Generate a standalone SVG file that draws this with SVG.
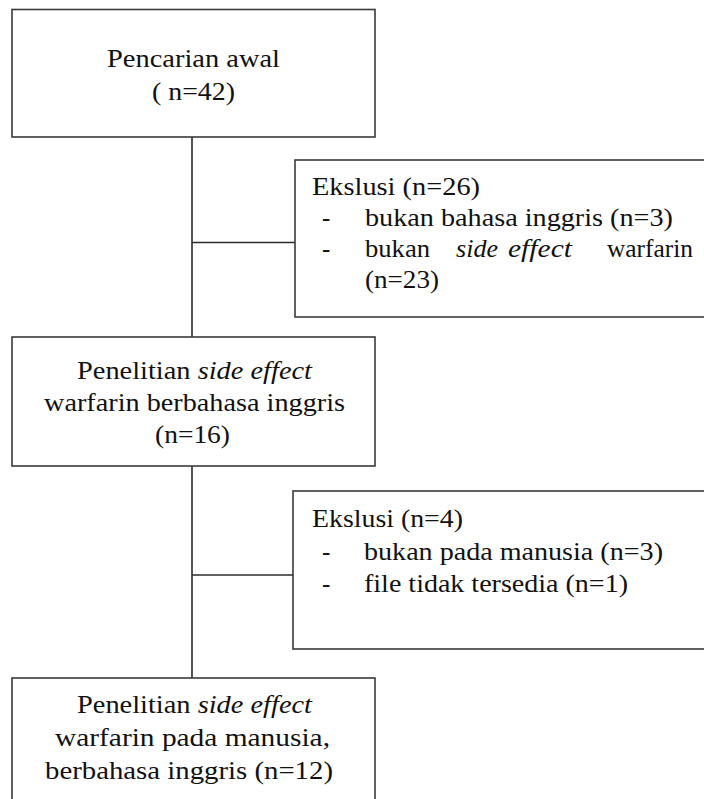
<svg xmlns="http://www.w3.org/2000/svg" width="704" height="799" viewBox="0 0 704 799">
<style>
.box{fill:#fff;stroke:#3a3a3a;stroke-width:1.6}
.ln{stroke:#2a2a2a;stroke-width:1.6;fill:none}
text{font-family:"Liberation Serif","Times New Roman",serif;font-size:25px;fill:#111}
.it{font-style:italic}
</style>
<rect width="704" height="799" fill="#fff"/>
<g id="connectors">
<line class="ln" x1="192" y1="137" x2="192" y2="337"/>
<line class="ln" x1="192" y1="242.5" x2="295" y2="242.5"/>
<line class="ln" x1="192" y1="466" x2="192" y2="678"/>
<line class="ln" x1="192" y1="575" x2="293" y2="575"/>
</g>
<g id="node-awal">
<rect class="box" x="12" y="9.5" width="363" height="127.5"/>
<text x="107" y="67" textLength="173" lengthAdjust="spacingAndGlyphs">Pencarian awal</text>
<text x="152" y="100" textLength="83" lengthAdjust="spacingAndGlyphs">( n=42)</text>
</g>
<g id="node-eksklusi1">
<rect class="box" x="295" y="160" width="420" height="157"/>
<text x="312" y="195" textLength="168" lengthAdjust="spacingAndGlyphs">Ekslusi (n=26)</text>
<text x="322" y="226">-</text>
<text x="365" y="226" textLength="308" lengthAdjust="spacingAndGlyphs">bukan bahasa inggris (n=3)</text>
<text x="322" y="257">-</text>
<text x="365" y="257" textLength="65" lengthAdjust="spacingAndGlyphs">bukan</text>
<text x="456" y="257" class="it" textLength="42" lengthAdjust="spacingAndGlyphs">side</text>
<text x="508" y="257" class="it" textLength="64" lengthAdjust="spacingAndGlyphs">effect</text>
<text x="607" y="257" textLength="86" lengthAdjust="spacingAndGlyphs">warfarin</text>
<text x="365" y="288" textLength="74" lengthAdjust="spacingAndGlyphs">(n=23)</text>
</g>
<g id="node-penelitian1">
<rect class="box" x="12" y="337" width="363" height="129"/>
<text x="77" y="379" textLength="235" lengthAdjust="spacingAndGlyphs">Penelitian <tspan class="it">side effect</tspan></text>
<text x="44" y="411" textLength="301" lengthAdjust="spacingAndGlyphs">warfarin berbahasa inggris</text>
<text x="155" y="443" textLength="75" lengthAdjust="spacingAndGlyphs">(n=16)</text>
</g>
<g id="node-eksklusi2">
<rect class="box" x="293" y="491" width="422" height="158"/>
<text x="312" y="527" textLength="151" lengthAdjust="spacingAndGlyphs">Ekslusi (n=4)</text>
<text x="322" y="560">-</text>
<text x="364" y="560" textLength="299" lengthAdjust="spacingAndGlyphs">bukan pada manusia (n=3)</text>
<text x="322" y="592">-</text>
<text x="364" y="592" textLength="264" lengthAdjust="spacingAndGlyphs">file tidak tersedia (n=1)</text>
</g>
<g id="node-penelitian2">
<rect class="box" x="12" y="678" width="363" height="140"/>
<text x="77" y="713" textLength="235" lengthAdjust="spacingAndGlyphs">Penelitian <tspan class="it">side effect</tspan></text>
<text x="55" y="746" textLength="275" lengthAdjust="spacingAndGlyphs">warfarin pada manusia,</text>
<text x="45" y="779" textLength="288" lengthAdjust="spacingAndGlyphs">berbahasa inggris (n=12)</text>
</g>
</svg>
